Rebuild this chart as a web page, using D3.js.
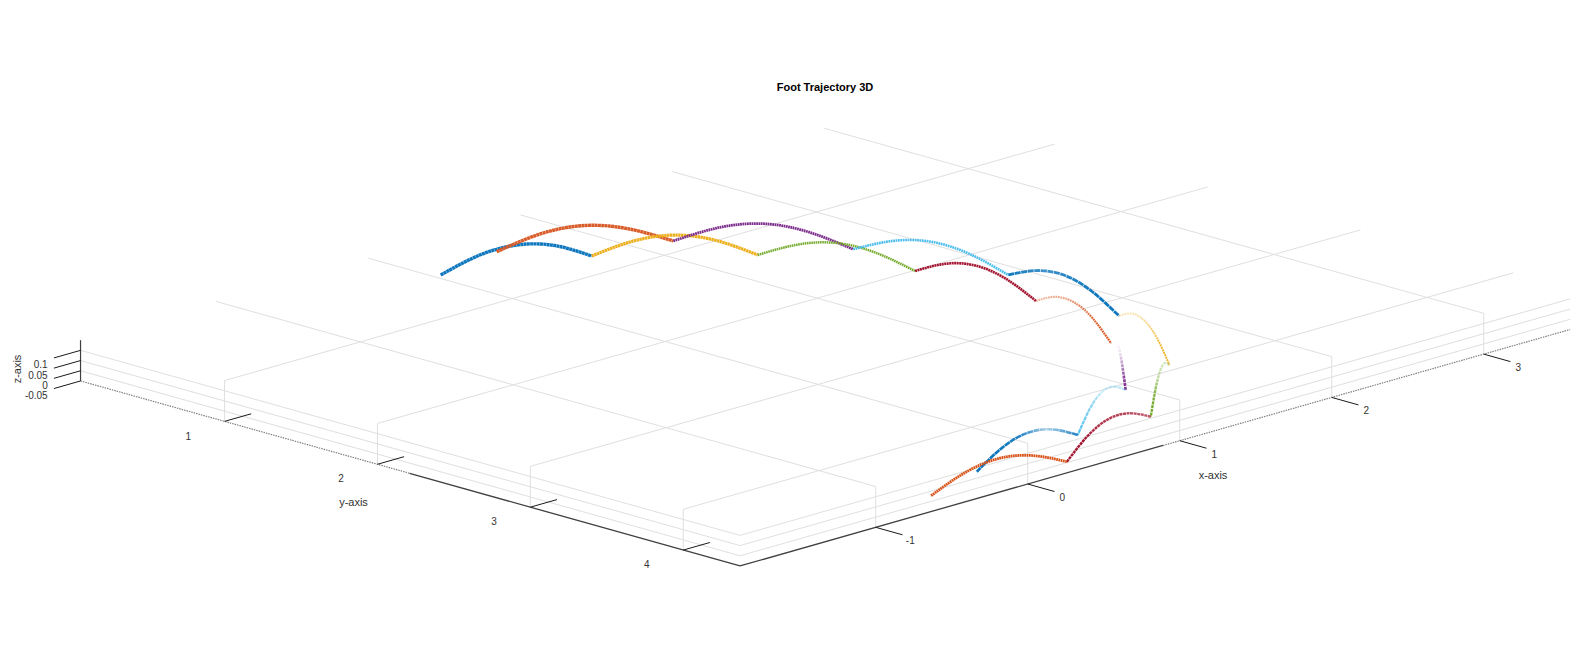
<!DOCTYPE html>
<html><head><meta charset="utf-8">
<script src="https://cdn.jsdelivr.net/npm/d3@7"></script>
<style>
html,body{margin:0;padding:0;background:#fff}
svg{display:block}
text{font-family:"Liberation Sans",Arial,sans-serif;fill:#333}
</style></head><body>
<svg id="chart" width="1593" height="656"></svg>
<script>
// ---- axis content
const xTicks=[-1,0,1,2,3];
const yTicks=[1,2,3,4];
const zTicks=[-0.05,0,0.05,0.1];
const zTickLabels=["-0.05","0","0.05","0.1"];
const xLim=[-1.893,3.568], yLim=[0.058,4.371], zLim=[-0.05,0.15];
const titleText="Foot Trajectory 3D";

// ---- swing trajectories, in data coordinates
const names=["blue1","orange1","yellow1","purple1","green1","cyan1","crimson1","blue2","orange2","yellow2","purple2","green2","cyan2","crimson2","blue3","orange3"];
const xs=[
[.397,.576,.754,.933,1.111],
[.851,1.026,1.202,1.377,1.552],
[1.111,1.250,1.388,1.527,1.665],
[1.552,1.675,1.798,1.920,2.043],
[1.665,1.747,1.829,1.910,1.992],
[2.043,2.095,2.147,2.198,2.250],
[1.992,2.004,2.015,2.027,2.038],
[2.250,2.221,2.193,2.164,2.135],
[2.038,1.976,1.915,1.853,1.791],
[2.135,2.034,1.932,1.831,1.729],
[1.791,1.667,1.543,1.419,1.295],
[1.729,1.563,1.398,1.232,1.066],
[1.295,1.125,.955,.785,.615],
[1.066,.867,.668,.468,.269],
[.615,.426,.237,.047,-.142],
[.269,.058,-.153,-.364,-.575]];
const ys=[
[.137,.207,.276,.346,.415],
[.052,.167,.281,.396,.510],
[.415,.549,.683,.816,.950],
[.510,.682,.855,1.027,1.199],
[.950,1.126,1.302,1.478,1.654],
[1.199,1.401,1.603,1.805,2.007],
[1.654,1.840,2.027,2.213,2.399],
[2.007,2.217,2.427,2.636,2.846],
[2.399,2.583,2.768,2.952,3.136],
[2.846,3.029,3.213,3.396,3.579],
[3.136,3.283,3.430,3.577,3.724],
[3.579,3.713,3.848,3.982,4.116],
[3.724,3.815,3.906,3.996,4.087],
[4.116,4.177,4.238,4.299,4.360],
[4.087,4.110,4.133,4.156,4.179],
[4.360,4.347,4.334,4.321,4.308]];
const zs=[
[0,.072,.1,.075,0],
[0,.075,.102,.072,0],
[0,.072,.1,.072,0],
[0,.075,.105,.075,0],
[0,.07,.098,.07,0],
[0,.072,.1,.072,0],
[0,.072,.1,.072,0],
[0,.072,.1,.072,0],
[0,.072,.098,.072,0],
[0,.072,.098,.072,0],
[0,.072,.1,.072,0],
[0,.072,.1,.072,0],
[0,.072,.1,.072,0],
[0,.072,.1,.072,0],
[0,.072,.1,.072,0],
[0,.072,.1,.072,0]];

// ---- styles per swing
const colors=["#0f77bd","#d95d2a","#edb120","#7e2f8e","#77ac30","#4dbeee","#a2142f","#0f77bd","#d95319","#edb120","#7e2f8e","#77ac30","#4dbeee","#a2142f","#0f77bd","#d95319"];
const widths=[3.4,3.4,3.2,2.8,2.5,2.6,2.6,2.8,2.2,2,2.6,2.4,2.2,2.4,2.6,2.8];
const dashes=["3 .3","3 .3","2.4 .4","1.8 .5","1.6 .6","1.8 .6","2 .5","6 .6","1.8 .7","2 .7","3 .8","3 .8","4 .6","3 .6","6 .5","1.8 .5"];
const fades=[
[1,1,1,1,1],[1,1,1,1,1],[1,1,1,1,1],[1,1,1,1,1],[1,1,1,1,1],[1,1,1,1,1],[1,1,1,1,1],
[1,.8,.9,1,1],
[.4,.5,.7,.9,1],
[.3,.4,.65,.9,1],
[0,.15,.5,.9,1],
[.3,.4,.8,1,1],
[.4,.25,.6,.8,1],
[.7,.8,.85,1,1],
[.9,.35,.9,1,1],
[1,1,1,1,1]];

// ---- oblique projection built from linear scales
const xToPx=d3.scaleLinear().domain([0,1]).range([0,152]);
const xToPy=d3.scaleLinear().domain([0,1]).range([0,-43.3]);
const yToPx=d3.scaleLinear().domain([0,1]).range([359.4,512.3]);
const yToPy=d3.scaleLinear().domain([0,1]).range([286.3,329.2]);
const zToPy=d3.scaleLinear().domain([0,1]).range([0,-204]);
const P=(x,y,z)=>[xToPx(x)+yToPx(y), xToPy(x)+yToPy(y)+zToPy(z)];

const svg=d3.select("#chart");
const defs=svg.append("defs");
const seg=(g,a,b,color,w,dash)=>g.append("line")
  .attr("x1",a[0]).attr("y1",a[1]).attr("x2",b[0]).attr("y2",b[1])
  .attr("stroke",color).attr("stroke-width",w).attr("stroke-dasharray",dash||null);

const [x0,x1]=xLim,[y0,y1]=yLim,[z0,z1]=zLim;
const grid=svg.append("g");
const gc="#dfdfdf";
// ceiling and wall grid lines
xTicks.forEach(t=>{
  seg(grid,P(t,y1,z0),P(t,y1,z1),gc,1);
  seg(grid,P(t,y1,z1),P(t,y0,z1),gc,1);
});
yTicks.forEach(t=>{
  seg(grid,P(x0,t,z0),P(x0,t,z1),gc,1);
  seg(grid,P(x0,t,z1),P(x1,t,z1),gc,1);
});
zTicks.filter(t=>t>z0).forEach(t=>{
  seg(grid,P(x0,y0,t),P(x0,y1,t),gc,1);
  seg(grid,P(x0,y1,t),P(x1,y1,t),gc,1);
});

// axes
const ax=svg.append("g");
const axisC="#404040";
const ySplit=2.21,xSplit=0.89;
seg(ax,P(x0,y0,z0),P(x0,ySplit,z0),"#808080",1.2,"1.5 1");
seg(ax,P(x0,ySplit,z0),P(x0,y1,z0),axisC,1.3);
seg(ax,P(x0,y1,z0),P(xSplit,y1,z0),axisC,1.3);
seg(ax,P(xSplit,y1,z0),P(x1,y1,z0),"#808080",1.2,"1.5 1");
seg(ax,P(x0,y0,z0),P(x0,y0,z1),axisC,1.2);

const tickC="#1a1a1a",tl=0.175;
xTicks.forEach(t=>{
  const a=P(t,y1,z0); seg(ax,a,P(t,y1+tl,z0),tickC,1);
  ax.append("text").attr("x",a[0]+34.6).attr("y",a[1]+13.3).attr("dy",".35em")
    .attr("text-anchor","middle").attr("font-size",10).text(t);
});
yTicks.forEach(t=>{
  const a=P(x0,t,z0); seg(ax,a,P(x0+tl,t,z0),tickC,1);
  ax.append("text").attr("x",a[0]-36.4).attr("y",a[1]+14.7).attr("dy",".35em")
    .attr("text-anchor","middle").attr("font-size",10).text(t);
});
zTicks.forEach((t,i)=>{
  const a=P(x0,y0,t); seg(ax,a,P(x0-tl,y0,t),tickC,1);
  ax.append("text").attr("x",47.7).attr("y",a[1]+14.6).attr("dy",".35em")
    .attr("text-anchor","end").attr("font-size",10).text(zTickLabels[i]);
});

// axis titles and title
const label=(x,y,s,size,rot,bold)=>{
  const t=svg.append("text").attr("text-anchor","middle").attr("dy",".35em")
    .attr("font-size",size).attr("transform",`translate(${x},${y})${rot?` rotate(${rot})`:""}`).text(s);
  if(bold) t.attr("font-weight","bold").style("fill","#000");
};
label(1213,475.5,"x-axis",11);
label(353.5,502,"y-axis",11);
label(16.7,369,"z-axis",11,-90);
label(825,87.4,titleText,11,0,true);

// trajectories
const path=d3.line().curve(d3.curveNatural);
const traj=svg.append("g").attr("fill","none");
names.forEach((n,i)=>{
  const pts=xs[i].map((x,k)=>P(x,ys[i][k],zs[i][k]));
  const id="fade-"+n;
  const grad=defs.append("linearGradient").attr("id",id).attr("gradientUnits","userSpaceOnUse")
    .attr("x1",pts[0][0]).attr("y1",pts[0][1]).attr("x2",pts[4][0]).attr("y2",pts[4][1]);
  fades[i].forEach((a,k)=>grad.append("stop").attr("offset",k/4).attr("stop-color",colors[i]).attr("stop-opacity",a));
  traj.append("path").attr("data-name",n).attr("d",path(pts))
    .attr("stroke",`url(#${id})`).attr("stroke-width",widths[i])
    .attr("stroke-dasharray",dashes[i]);
});
</script>
</body></html>
